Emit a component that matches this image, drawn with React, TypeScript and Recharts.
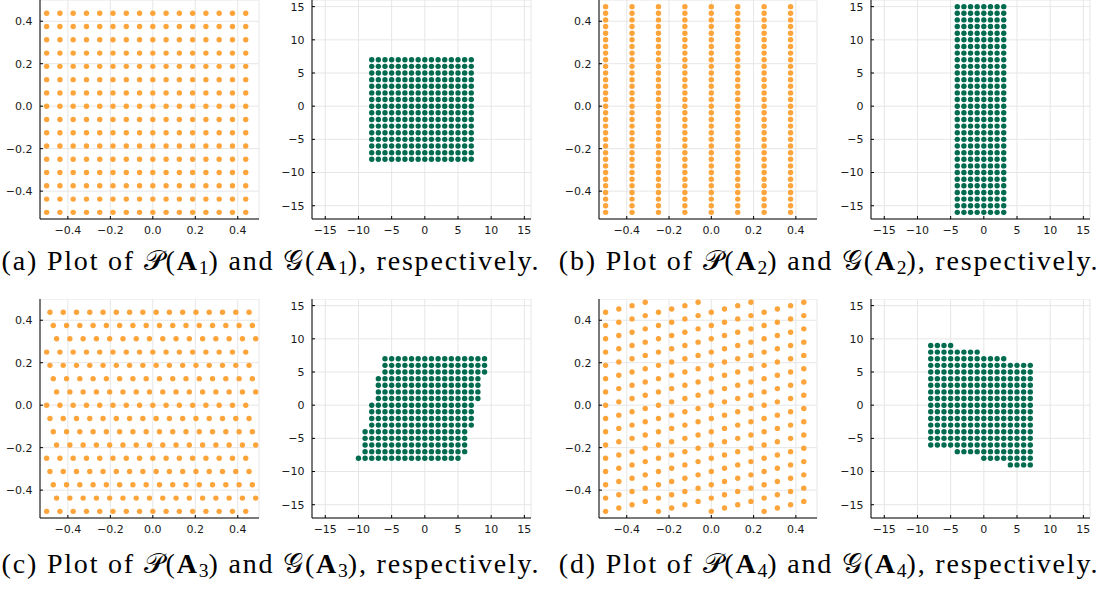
import { ScatterChart, Scatter, XAxis, YAxis, CartesianGrid } from 'recharts';

// lattice levels
const unit16 = [-0.5, -0.4375, -0.375, -0.3125, -0.25, -0.1875, -0.125, -0.0625, 0, 0.0625, 0.125, 0.1875, 0.25, 0.3125, 0.375, 0.4375];
const p2Cols = [-0.5, -0.375, -0.25, -0.125, 0, 0.125, 0.25, 0.375];
const p2Rows = [
  -0.5, -0.46875, -0.4375, -0.40625, -0.375, -0.34375, -0.3125, -0.28125,
  -0.25, -0.21875, -0.1875, -0.15625, -0.125, -0.09375, -0.0625, -0.03125,
  0, 0.03125, 0.0625, 0.09375, 0.125, 0.15625, 0.1875, 0.21875,
  0.25, 0.28125, 0.3125, 0.34375, 0.375, 0.40625, 0.4375, 0.46875,
];
// horizontal shift of each row of P(A3), rows from y = -0.5 upwards
const p3RowShift = [
  0, 0.046875, 0.03125, 0.015625, 0, 0.046875, 0.03125, 0.015625,
  0, 0.046875, 0.03125, 0.015625, 0, 0.046875, 0.03125, 0.015625,
];
// vertical shift of each column of P(A4), columns from x = -0.5 rightwards
const p4ColShift = [
  0, 0.015625, 0.03125, 0.046875, 0, 0.015625, 0.03125, 0.046875,
  0, 0.015625, 0.03125, 0.046875, 0, 0.015625, 0.03125, 0.046875,
];

const int16 = [-8, -7, -6, -5, -4, -3, -2, -1, 0, 1, 2, 3, 4, 5, 6, 7];
const g2Cols = [-4, -3, -2, -1, 0, 1, 2, 3];
const g2Rows = [-16, -15, -14, -13, -12, -11, -10, -9, -8, -7, -6, -5, -4, -3, -2, -1, 0, 1, 2, 3, 4, 5, 6, 7, 8, 9, 10, 11, 12, 13, 14, 15];
// G(A3): shift of each row (y = -8 .. 7)
const g3RowShift = [-2, -1, -1, -1, -1, 0, 0, 0, 0, 1, 1, 1, 1, 2, 2, 2];
// G(A4): shift of each column (x = -8 .. 7)
const g4ColShift = [2, 2, 2, 2, 1, 1, 1, 1, 0, 0, 0, 0, -1, -1, -1, -1];

const pTicks = [-0.4, -0.2, 0, 0.2, 0.4];
const gTicks = [-15, -10, -5, 0, 5, 10, 15];
const pDomain = [-0.53125, 0.5];
const gDomain = [-17, 16];

type Pt = { x: number; y: number };

const grid = (xs: number[], ys: number[]): Pt[] =>
  ys.flatMap((y) => xs.map((x) => ({ x, y })));

const rowsShifted = (xs: number[], ys: number[], shift: number[]): Pt[] =>
  ys.flatMap((y, i) => xs.map((x) => ({ x: x + shift[i], y })));

const colsShifted = (xs: number[], ys: number[], shift: number[]): Pt[] =>
  xs.flatMap((x, i) => ys.map((y) => ({ x, y: y + shift[i] })));

const ORANGE = '#fda43b';
const GREEN = '#006b4e';

const fmtP = (v: number) => v.toFixed(1).replace('-', '\u2212');
const fmtG = (v: number) => String(v).replace('-', '\u2212');

const tickStyle = { fill: '#1a1a1a', fontSize: 11, fontFamily: '"DejaVu Sans", sans-serif' };

function Panel({ left, top, plotWidth, data, color, kind }: any) {
  const ticks = kind === 'p' ? pTicks : gTicks;
  const domain = kind === 'p' ? pDomain : gDomain;
  const fmt = kind === 'p' ? fmtP : fmtG;
  const yw = 40;
  return (
    <div style={{ position: 'absolute', left: left - yw, top }}>
      <ScatterChart width={yw + plotWidth + 12} height={219 + 30} margin={{ top: 0, right: 12, bottom: 0, left: 0 }}>
        <CartesianGrid stroke="#e6e6e6" strokeWidth={1} />
        <XAxis
          type="number"
          dataKey="x"
          domain={domain}
          ticks={ticks}
          allowDataOverflow
          height={30}
          tickSize={-3}
          tickMargin={10}
          tick={tickStyle}
          tickFormatter={fmt}
          stroke="#000"
          tickLine={{ stroke: '#000' }}
        />
        <YAxis
          type="number"
          dataKey="y"
          domain={domain}
          ticks={ticks}
          allowDataOverflow
          width={yw}
          tickSize={-3}
          tickMargin={10.5}
          tick={tickStyle}
          tickFormatter={fmt}
          stroke="#000"
          tickLine={{ stroke: '#000' }}
        />
        <Scatter
          data={data}
          isAnimationActive={false}
          shape={(p: any) => <circle cx={p.cx} cy={p.cy} r={2.7} fill={color} />}
        />
      </ScatterChart>
    </div>
  );
}

function Caption({ left, top, width, tag, n }: any) {
  const sub = { fontSize: '0.7em', verticalAlign: '-0.22em', letterSpacing: 0 };
  return (
    <div
      style={{
        position: 'absolute',
        left,
        top,
        width,
        textAlign: 'center',
        whiteSpace: 'nowrap',
        fontFamily: '"Liberation Serif", "DejaVu Serif", serif',
        fontSize: 28,
        letterSpacing: '1.8px',
        lineHeight: '32px',
        color: '#000',
      }}
    >
      ({tag}) Plot of <span>𝒫</span>(<b>A</b>
      <sub style={sub}>{n}</sub>) and <span>𝒢</span>(<b>A</b>
      <sub style={sub}>{n}</sub>), respectively.
    </div>
  );
}

export default function App() {
  return (
    <div style={{ position: 'absolute', left: 0, top: 0, width: 1109, height: 592, background: '#fff' }}>
      <Panel left={40} top={0} plotWidth={219} data={grid(unit16, unit16)} color={ORANGE} kind="p" />
      <Panel left={312} top={0} plotWidth={219} data={grid(int16, int16)} color={GREEN} kind="g" />
      <Panel left={599} top={0} plotWidth={218} data={grid(p2Cols, p2Rows)} color={ORANGE} kind="p" />
      <Panel left={871} top={0} plotWidth={219} data={grid(g2Cols, g2Rows)} color={GREEN} kind="g" />

      <Panel left={40} top={299} plotWidth={219} data={rowsShifted(unit16, unit16, p3RowShift)} color={ORANGE} kind="p" />
      <Panel left={312} top={299} plotWidth={219} data={rowsShifted(int16, int16, g3RowShift)} color={GREEN} kind="g" />
      <Panel left={599} top={299} plotWidth={218} data={colsShifted(unit16, unit16, p4ColShift)} color={ORANGE} kind="p" />
      <Panel left={871} top={299} plotWidth={219} data={colsShifted(int16, int16, g4ColShift)} color={GREEN} kind="g" />

      <Caption left={0} top={245} width={542} tag="a" n={1} />
      <Caption left={550} top={245} width={558} tag="b" n={2} />
      <Caption left={0} top={548} width={542} tag="c" n={3} />
      <Caption left={550} top={548} width={558} tag="d" n={4} />
    </div>
  );
}
